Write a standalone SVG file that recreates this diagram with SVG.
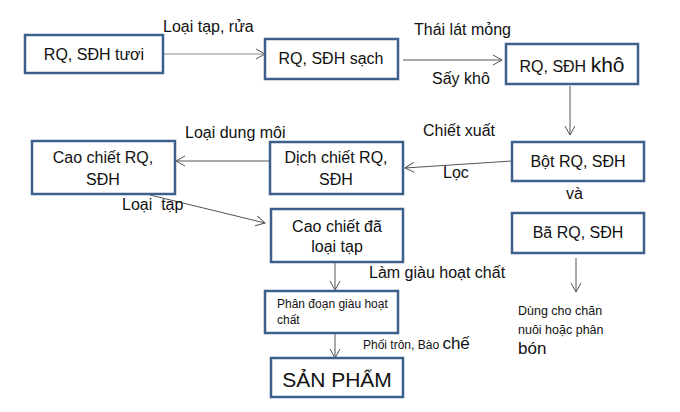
<svg xmlns="http://www.w3.org/2000/svg" width="680" height="412" viewBox="0 0 680 412">
<defs>
<marker id="ah" markerWidth="12" markerHeight="12" refX="10" refY="6" orient="auto" markerUnits="userSpaceOnUse">
<path d="M1,1 L10,6 L1,11" fill="none" stroke="#555" stroke-width="1"/>
</marker>
<style>
.box{fill:#fff;stroke:#3d5f8c;stroke-width:2.5}
.t{font-family:"Liberation Sans",Arial,sans-serif;font-size:16px;fill:#111}
.c{text-anchor:middle}
.ln{stroke:#555;stroke-width:1;fill:none;marker-end:url(#ah)}
</style>
</defs>
<rect width="680" height="412" fill="#fff"/>
<g id="connectors">
<line class="ln" x1="163" y1="54" x2="265" y2="54" style="stroke:#888"/>
<line class="ln" x1="403" y1="60" x2="502" y2="60"/>
<line class="ln" x1="570" y1="86" x2="570" y2="135"/>
<line class="ln" x1="512" y1="161" x2="405" y2="168"/>
<line class="ln" x1="270" y1="161" x2="176" y2="161"/>
<line class="ln" x1="150" y1="195" x2="265" y2="223"/>
<line class="ln" x1="335" y1="262" x2="335" y2="290"/>
<line class="ln" x1="335" y1="333" x2="335" y2="358"/>
<line class="ln" x1="576" y1="258" x2="576" y2="292"/>
</g>
<g id="labels">
<text class="t" x="163" y="32">Loại tạp, rửa</text>
<text class="t" x="414" y="35">Thái lát mỏng</text>
<text class="t" x="432" y="84">Sấy khô</text>
<text class="t" x="423" y="136">Chiết xuất</text>
<text class="t" x="443" y="178">Lọc</text>
<text class="t" x="185" y="138">Loại dung môi</text>
<text class="t" x="122" y="210" xml:space="preserve">Loại  tạp</text>
<text class="t" x="566" y="199">và</text>
<text class="t" x="369" y="278">Làm giàu hoạt chất</text>
<text class="t" x="363" y="349"><tspan style="font-size:12px">Phối trôn, Bào </tspan><tspan style="font-size:17px">chế</tspan></text>
<text class="t" x="518" y="315" style="font-size:12.5px">Dùng cho chăn</text>
<text class="t" x="518" y="334" style="font-size:12.5px">nuôi hoặc phân</text>
<text class="t" x="518" y="354" style="font-size:17px">bón</text>
</g>
<g id="n1"><rect class="box" x="25" y="35" width="138" height="38"/><text class="t c" x="94" y="60">RQ, SĐH tươi</text></g>
<g id="n2"><rect class="box" x="265" y="39" width="133" height="40"/><text class="t c" x="331" y="64">RQ, SĐH sạch</text></g>
<g id="n3"><rect class="box" x="506" y="44" width="132" height="40"/><text class="t c" x="572" y="72">RQ, SĐH <tspan style="font-size:21px">khô</tspan></text></g>
<g id="n4"><rect class="box" x="512" y="142" width="132" height="39"/><text class="t c" x="578" y="167">Bột RQ, SĐH</text></g>
<g id="n5"><rect class="box" x="512" y="213" width="132" height="40"/><text class="t c" x="578" y="238">Bã RQ, SĐH</text></g>
<g id="n6"><rect class="box" x="270" y="142" width="133" height="52"/><text class="t c" x="336" y="163">Dịch chiết RQ,</text><text class="t c" x="336" y="185">SĐH</text></g>
<g id="n7"><rect class="box" x="32" y="141" width="143" height="53"/><text class="t c" x="103" y="163">Cao chiết RQ,</text><text class="t c" x="103" y="185">SĐH</text></g>
<g id="n8"><rect class="box" x="271" y="209" width="132" height="53"/><text class="t c" x="337" y="232">Cao chiết đã</text><text class="t c" x="337" y="252">loại tạp</text></g>
<g id="n9"><rect class="box" x="265" y="291" width="133" height="42"/><text class="t" x="277" y="308" style="font-size:12px">Phân đoạn giàu hoạt</text><text class="t" x="277" y="324" style="font-size:12px">chất</text></g>
<g id="n10"><rect class="box" x="271" y="358" width="132" height="39"/><text class="t c" x="337" y="387" style="font-size:21px">SẢN PHẨM</text></g>
</svg>
